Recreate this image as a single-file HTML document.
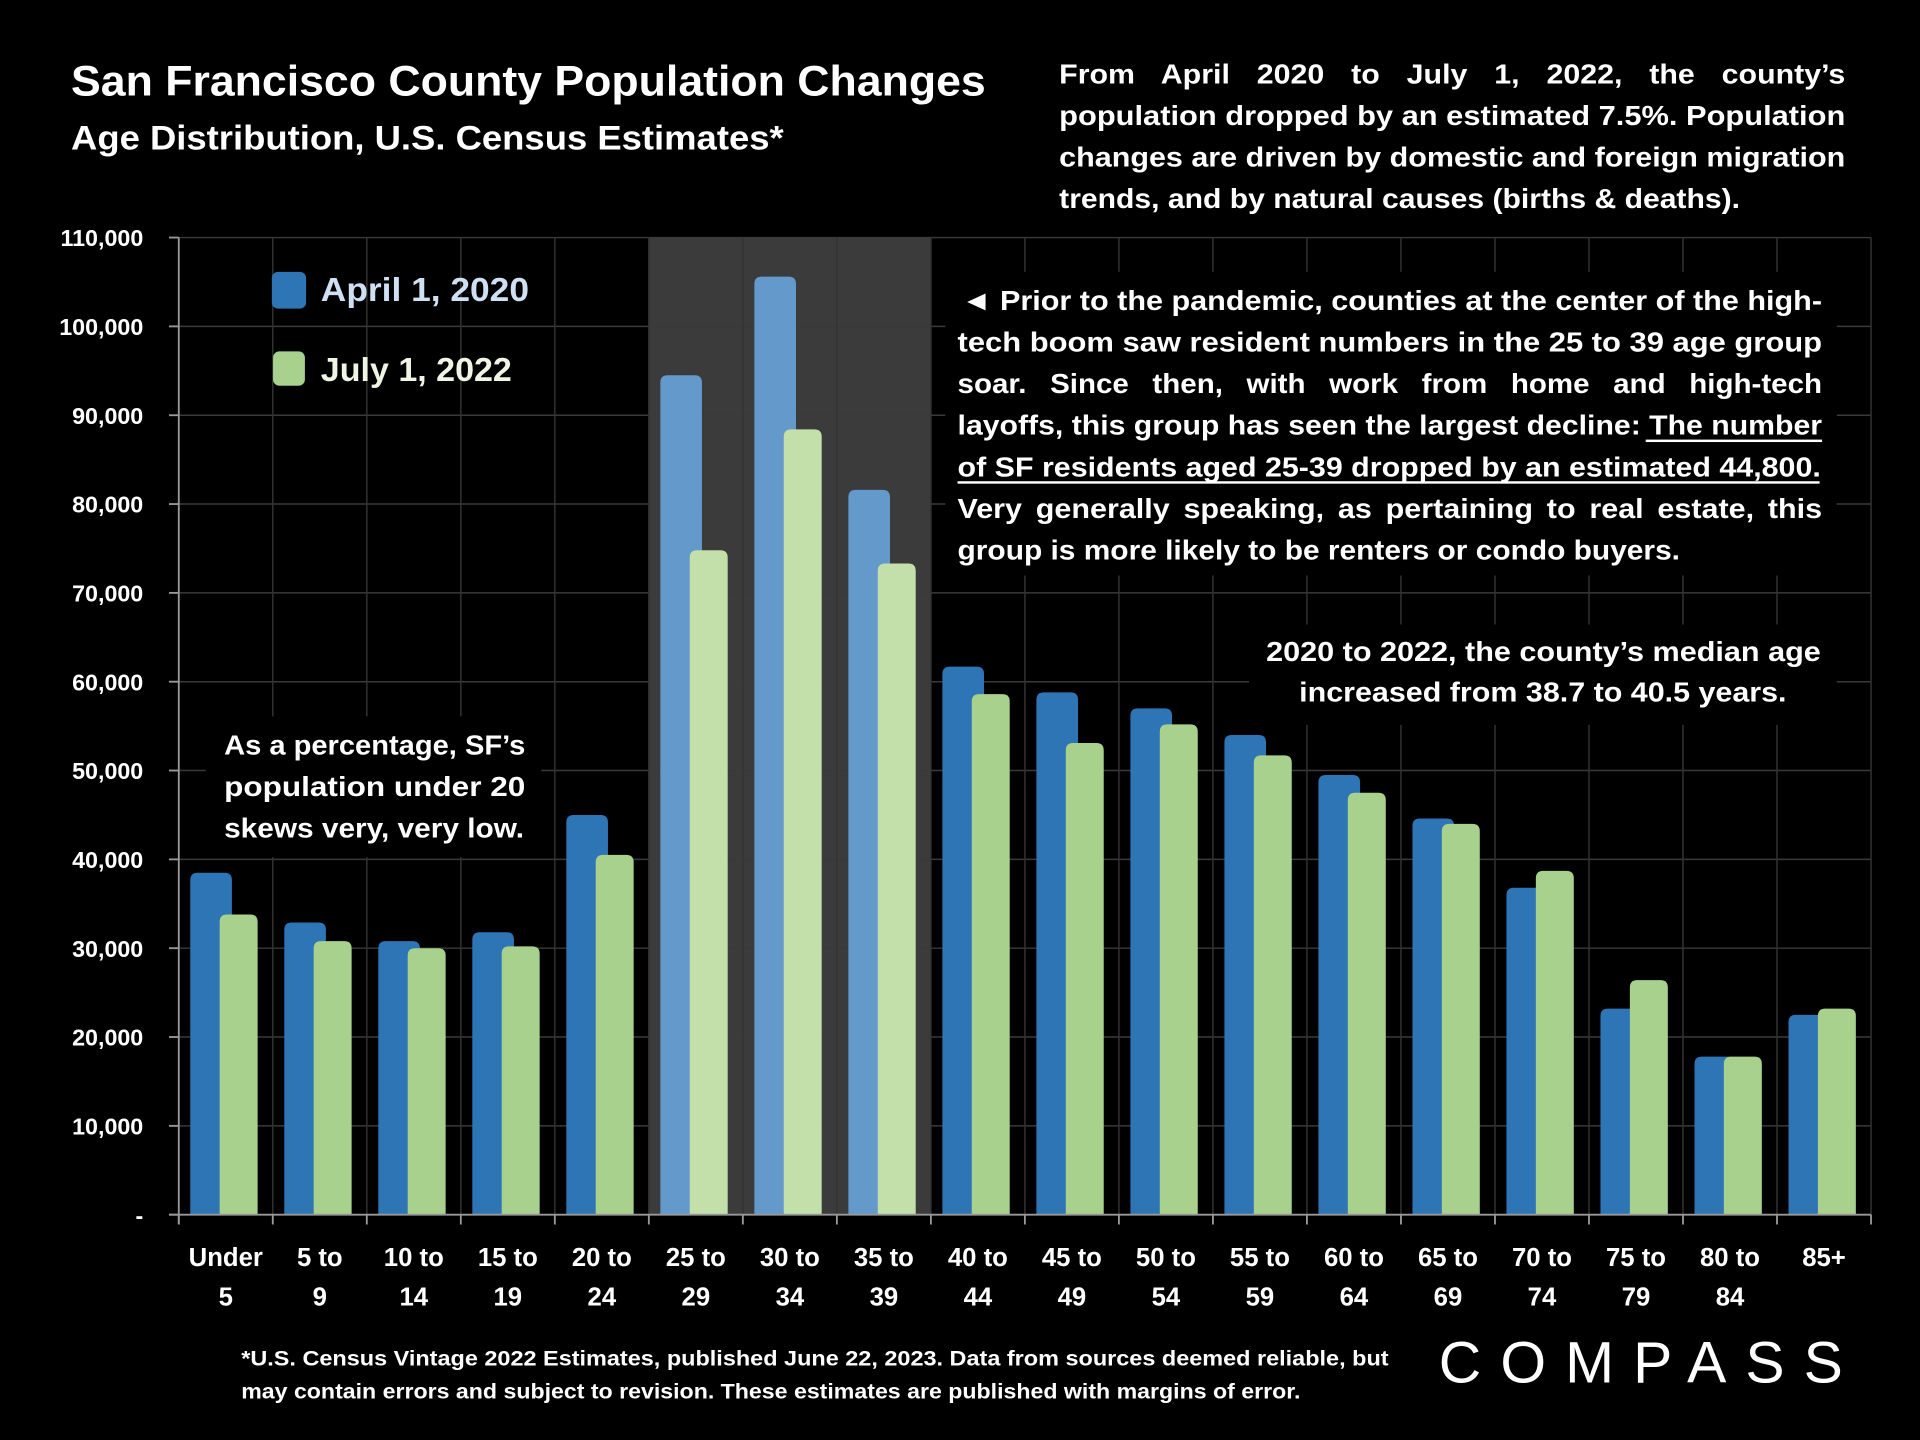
<!DOCTYPE html>
<html><head><meta charset="utf-8"><style>
html,body{margin:0;padding:0;background:#000;width:1920px;height:1440px;overflow:hidden}
svg{display:block}
text{font-family:"Liberation Sans",sans-serif;font-weight:bold;fill:#fff}
</style></head><body>
<svg id="chart" width="1920" height="1440" viewBox="0 0 1568 1176" xmlns="http://www.w3.org/2000/svg">
<rect x="0" y="0" width="1568" height="1176" fill="#000"/>
<rect id="hl" fill="#3b3b3b"/>
<g id="grid"></g>
<g id="bars"></g>
<g id="axes"></g>

<text x="58" y="78" font-size="35" textLength="747" lengthAdjust="spacingAndGlyphs">San Francisco County Population Changes</text>
<text x="58" y="122" font-size="28" textLength="582" lengthAdjust="spacingAndGlyphs">Age Distribution, U.S. Census Estimates*</text>

<g font-size="23">
<text x="865" y="68" textLength="642" lengthAdjust="spacingAndGlyphs" word-spacing="14">From April 2020 to July 1, 2022, the county’s</text>
<text x="865" y="102" textLength="642" lengthAdjust="spacingAndGlyphs">population dropped by an estimated 7.5%. Population</text>
<text x="865" y="136" textLength="642" lengthAdjust="spacingAndGlyphs">changes are driven by domestic and foreign migration</text>
<text x="865" y="170" textLength="556" lengthAdjust="spacingAndGlyphs">trends, and by natural causes (births &amp; deaths).</text>
</g>

<g>
<rect x="222" y="222" width="28" height="30" rx="5" fill="#2e75b6"/>
<text x="262" y="246" font-size="27" style="fill:#cfe0f3" textLength="170" lengthAdjust="spacingAndGlyphs">April 1, 2020</text>
<rect x="223" y="287" width="26" height="28" rx="5" fill="#a9d18e"/>
<text x="262" y="311" font-size="27" style="fill:#eef5e4" textLength="156" lengthAdjust="spacingAndGlyphs">July 1, 2022</text>
</g>

<rect x="772" y="222" width="728" height="248" fill="#000"/>
<g font-size="23">
<text x="785" y="253" textLength="703" lengthAdjust="spacingAndGlyphs">◄ Prior to the pandemic, counties at the center of the high-</text>
<text x="782" y="287" textLength="706" lengthAdjust="spacingAndGlyphs">tech boom saw resident numbers in the 25 to 39 age group</text>
<text x="782" y="321" textLength="706" lengthAdjust="spacingAndGlyphs" word-spacing="12">soar. Since then, with work from home and high-tech</text>
<text x="782" y="355" textLength="706" lengthAdjust="spacingAndGlyphs">layoffs, this group has seen the largest decline: The number</text>
<text x="782" y="389" textLength="705" lengthAdjust="spacingAndGlyphs">of SF residents aged 25-39 dropped by an estimated 44,800.</text>
<text x="782" y="423" textLength="706" lengthAdjust="spacingAndGlyphs" word-spacing="4">Very generally speaking, as pertaining to real estate, this</text>
<text x="782" y="457" textLength="590" lengthAdjust="spacingAndGlyphs">group is more likely to be renters or condo buyers.</text>
<rect x="1344" y="359" width="144" height="2" fill="#fff"/>
<rect x="782" y="393" width="704" height="2" fill="#fff"/>
</g>

<rect x="1020" y="510" width="480" height="82" fill="#000"/>
<g font-size="23">
<text x="1034" y="540" textLength="453" lengthAdjust="spacingAndGlyphs">2020 to 2022, the county’s median age</text>
<text x="1061" y="573" textLength="398" lengthAdjust="spacingAndGlyphs">increased from 38.7 to 40.5 years.</text>
</g>

<rect x="168" y="585" width="274" height="115" fill="#000"/>
<g font-size="23">
<text x="183" y="616" textLength="246" lengthAdjust="spacingAndGlyphs">As a percentage, SF’s</text>
<text x="183" y="650" textLength="246" lengthAdjust="spacingAndGlyphs">population under 20</text>
<text x="183" y="684" textLength="245" lengthAdjust="spacingAndGlyphs">skews very, very low.</text>
</g>

<g font-size="17">
<text x="197" y="1115" textLength="937" lengthAdjust="spacingAndGlyphs">*U.S. Census Vintage 2022 Estimates, published June 22, 2023. Data from sources deemed reliable, but</text>
<text x="197" y="1142" textLength="865" lengthAdjust="spacingAndGlyphs">may contain errors and subject to revision. These estimates are published with margins of error.</text>
</g>
<text x="1175" y="1129" font-size="48" style="font-weight:normal" textLength="330" lengthAdjust="spacing">COMPASS</text>

<script>
const categories=["Under|5","5 to|9","10 to|14","15 to|19","20 to|24","25 to|29","30 to|34","35 to|39","40 to|44","45 to|49","50 to|54","55 to|59","60 to|64","65 to|69","70 to|74","75 to|79","80 to|84","85+|"];
const april2020=[38500,32900,30800,31800,45000,94500,105600,81600,61700,58800,57000,54000,49500,44600,36800,23200,17800,22500];
const july2022=[33800,30800,30000,30200,40500,74800,88400,73300,58600,53100,55200,51700,47500,44000,38700,26400,17800,23200];
const yTicks=[0,10000,20000,30000,40000,50000,60000,70000,80000,90000,100000,110000];
const yTickLabels=["-","10,000","20,000","30,000","40,000","50,000","60,000","70,000","80,000","90,000","100,000","110,000"];
const highlighted=[5,6,7];

const NS="http://www.w3.org/2000/svg";
const L=146,R=1528,T=194,B=992,YMAX=110000;
const bw=(R-L)/categories.length;
function y(v){return B-(v/YMAX)*(B-T);}
function xc(i){return L+bw*(i+0.5);}
function mk(tag,attrs,parent){const e=document.createElementNS(NS,tag);for(const k in attrs)e.setAttribute(k,attrs[k]);parent.appendChild(e);return e;}
function barPath(x,w,top,r){const b=B;r=Math.min(r,(b-top));return `M${x},${b}V${top+r}Q${x},${top} ${x+r},${top}H${x+w-r}Q${x+w},${top} ${x+w},${top+r}V${b}Z`;}

const hl=document.getElementById('hl');
hl.setAttribute('x',L+bw*highlighted[0]);hl.setAttribute('y',T);
hl.setAttribute('width',bw*highlighted.length);hl.setAttribute('height',B-T);

const grid=document.getElementById('grid');
yTicks.forEach(v=>{const ln=mk('line',{x1:L,x2:R,y1:y(v),y2:y(v),stroke:'#3a3a3a','stroke-width':1.2},grid);

});
for(let i=1;i<=categories.length;i++){const ln=mk('line',{x1:L+bw*i,x2:L+bw*i,y1:T,y2:B,stroke:'#333','stroke-width':1.2},grid);

}

const bars=document.getElementById('bars');
categories.forEach((c,i)=>{
  const hi=highlighted.includes(i);
  const b=mk('path',{d:barPath(xc(i)-29,34,y(april2020[i]),6),fill:hi?'#6399cb':'#2e75b6'},bars);
  
  
  const g=mk('path',{d:barPath(xc(i)-5,31,y(july2022[i]),6),fill:hi?'#c3dfaa':'#a9d18e'},bars);
  
  
});

const axes=document.getElementById('axes');
const ya=mk('line',{x1:L,x2:L,y1:T,y2:B+8,stroke:'#999','stroke-width':1.5},axes);


const xa=mk('line',{x1:L-8,x2:R,y1:B,y2:B,stroke:'#999','stroke-width':1.5},axes);


yTicks.forEach((v,i)=>{
  mk('line',{x1:L-8,x2:L,y1:y(v),y2:y(v),stroke:'#999','stroke-width':1.5},axes);
  const t=mk('text',{x:117,y:y(v)+7,'text-anchor':'end','font-size':19},axes);
  t.textContent=yTickLabels[i];
  
  
});
for(let i=0;i<=categories.length;i++){mk('line',{x1:L+bw*i,x2:L+bw*i,y1:B,y2:B+8,stroke:'#999','stroke-width':1.5},axes);}
categories.forEach((c,i)=>{
  const parts=c.split('|');
  parts.forEach((p,j)=>{if(!p)return;
    const t=mk('text',{x:xc(i),y:1034+j*32,'text-anchor':'middle','font-size':21},axes);
    t.textContent=p;
    
    
  });
});
</script>
</svg>
</body></html>
